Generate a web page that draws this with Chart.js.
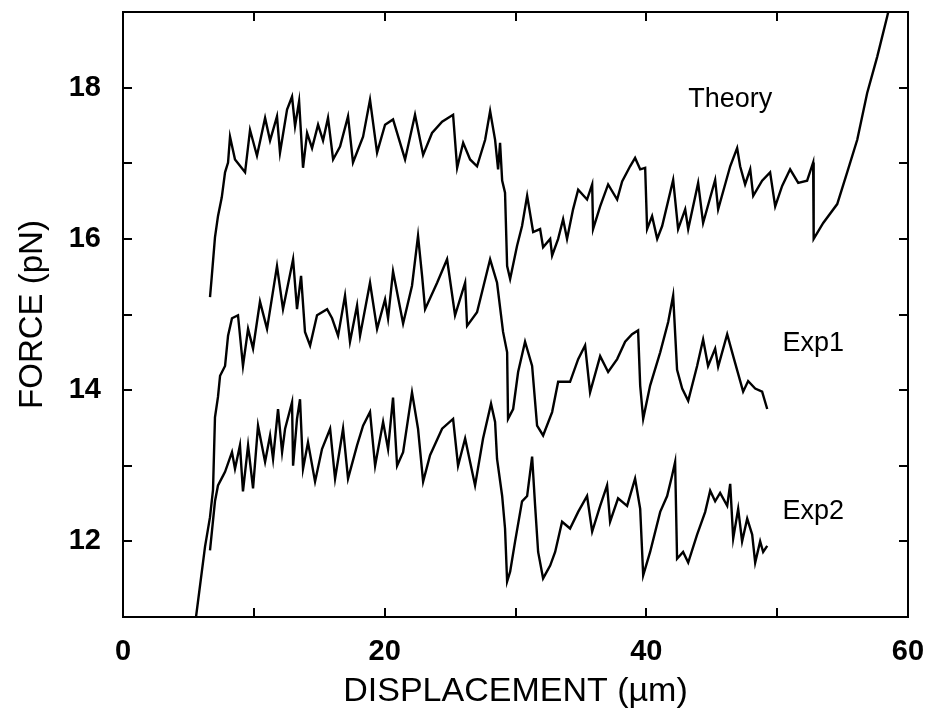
<!DOCTYPE html>
<html>
<head>
<meta charset="utf-8">
<script src="https://cdn.jsdelivr.net/npm/chart.js@4.4.1/dist/chart.umd.min.js"></script>
<style>
  html, body { margin: 0; padding: 0; background: #ffffff; }
  #wrap { width: 929px; height: 714px; position: relative; }
</style>
</head>
<body>
<div id="wrap"><canvas id="c" width="929" height="714"></canvas></div>
<script>
// ---- data ----
const theoryX = [6.65,6.78,7.03,7.26,7.55,7.80,8.03,8.18,8.56,9.33,9.71,10.24,10.86,11.24,11.77,12.0,12.54,12.92,13.15,13.46,13.76,14.07,14.45,14.91,15.29,15.67,16.06,16.59,17.2,17.58,18.35,18.88,19.42,20.03,20.64,21.56,22.32,22.94,23.62,24.39,25.23,25.54,26.0,26.53,27.06,27.68,28.06,28.44,28.67,28.82,28.98,29.2,29.36,29.59,30.12,30.5,30.89,31.35,31.88,32.11,32.65,32.8,33.26,33.64,33.94,34.4,34.79,35.47,35.86,35.93,36.47,37.08,37.77,38.15,38.76,39.14,39.53,39.91,40.06,40.44,40.83,41.21,42.05,42.43,42.97,43.2,43.96,44.34,45.26,45.49,46.41,46.94,47.17,47.55,47.94,48.17,48.85,49.46,49.85,50.38,50.99,51.61,52.29,52.75,52.79,53.52,54.59,55.35,56.12,56.88,57.65,58.41,58.49];
const theoryY = [15.23,15.49,16.02,16.30,16.55,16.88,17.01,17.35,17.05,16.88,17.44,17.10,17.60,17.30,17.62,17.14,17.71,17.88,17.49,17.82,16.94,17.40,17.20,17.51,17.30,17.60,17.05,17.22,17.62,17.01,17.35,17.84,17.14,17.51,17.58,17.05,17.64,17.11,17.40,17.55,17.64,16.94,17.27,17.05,16.96,17.31,17.69,17.31,16.92,17.27,16.77,16.61,15.64,15.47,15.91,16.17,16.57,16.09,16.13,15.89,16.00,15.78,16.00,16.26,16.00,16.39,16.65,16.52,16.72,16.13,16.43,16.72,16.52,16.76,16.96,17.07,16.92,16.94,16.13,16.30,16.00,16.17,16.78,16.13,16.39,16.13,16.74,16.21,16.78,16.39,16.96,17.20,16.96,16.72,16.92,16.57,16.77,16.88,16.43,16.70,16.92,16.74,16.77,17.01,16.00,16.21,16.46,16.88,17.31,17.93,18.41,18.94,19.0];

const exp1X = [5.58,6.27,6.65,6.88,7.03,7.26,7.42,7.80,8.03,8.33,8.79,9.17,9.56,9.94,10.47,11.01,11.77,12.23,13.0,13.3,13.61,13.91,14.3,14.83,15.6,15.98,16.44,16.97,17.35,17.89,18.12,18.88,19.42,20.03,20.26,20.64,21.41,22.09,22.55,22.86,23.09,24.01,24.77,25.38,26.15,26.3,27.06,28.06,28.59,29.05,29.36,29.43,29.82,30.2,30.73,31.27,31.65,32.11,32.8,33.26,34.17,34.79,35.32,35.7,36.47,37.08,37.77,38.38,38.91,39.37,39.53,39.76,40.29,41.06,41.67,42.05,42.35,42.74,43.2,43.88,44.34,44.72,45.26,45.49,46.18,46.64,47.4,47.78,48.32,48.85,49.24];
const exp1Y = [11.0,11.93,12.32,12.68,13.64,13.91,14.19,14.32,14.72,14.95,14.99,14.32,14.81,14.55,15.17,14.81,15.64,15.07,15.73,15.07,15.51,14.77,14.59,14.99,15.07,14.95,14.72,15.25,14.64,15.12,14.72,15.42,14.81,15.20,14.95,15.57,14.88,15.38,16.04,15.51,15.07,15.42,15.73,14.99,15.42,14.85,15.03,15.73,15.42,14.77,14.50,13.62,13.75,14.24,14.64,14.32,13.53,13.40,13.71,14.11,14.11,14.41,14.59,13.97,14.45,14.24,14.41,14.64,14.74,14.79,14.06,13.62,14.06,14.50,14.90,15.25,14.27,14.02,13.86,14.32,14.67,14.32,14.55,14.31,14.74,14.45,13.98,14.12,14.02,13.98,13.75];

const exp2X = [6.65,7.03,7.26,7.65,7.80,8.33,8.56,8.94,9.17,9.56,9.94,10.32,10.86,11.24,11.47,11.85,12.16,12.39,12.92,13.0,13.3,13.53,13.76,14.14,14.68,15.21,15.83,16.21,16.82,17.2,17.89,18.35,18.88,19.27,19.88,20.26,20.64,20.95,21.41,22.09,22.55,22.94,23.47,24.39,25.23,25.61,26.15,26.53,26.91,27.52,28.13,28.44,28.59,28.98,29.2,29.36,29.59,29.97,30.5,30.89,31.27,31.5,31.73,32.11,32.65,33.03,33.56,34.17,34.79,35.47,35.86,36.47,37.0,37.23,37.84,38.53,39.14,39.53,39.76,40.29,41.06,41.59,41.97,42.2,42.35,42.81,43.2,43.88,44.5,44.88,45.26,45.64,46.18,46.41,46.64,47.02,47.32,47.71,48.09,48.32,48.7,48.93,49.24];
const exp2Y = [11.88,12.53,12.74,12.87,12.92,13.18,12.96,13.27,12.66,13.27,12.70,13.53,13.05,13.40,13.09,13.75,13.18,13.49,13.84,13.00,13.62,13.88,12.96,13.31,12.79,13.22,13.49,12.83,13.49,12.83,13.27,13.53,13.71,13.00,13.58,13.22,13.90,13.00,13.18,13.97,13.49,12.79,13.14,13.49,13.62,13.00,13.36,13.05,12.74,13.36,13.82,13.58,13.09,12.60,12.17,11.47,11.60,12.00,12.53,12.60,13.12,12.47,11.86,11.51,11.68,11.86,12.26,12.17,12.39,12.60,12.13,12.47,12.74,12.26,12.57,12.47,12.83,12.43,11.55,11.86,12.39,12.60,12.87,13.05,11.77,11.86,11.72,12.09,12.39,12.67,12.53,12.64,12.47,12.76,12.04,12.43,12.00,12.30,12.09,11.72,12.00,11.86,11.94];

const seriesNames = ['Theory', 'Exp1', 'Exp2'];
const xLabelValues = [0, 20, 40, 60];
const yLabelValues = [12, 14, 16, 18];
const xTitle = 'DISPLACEMENT (\u00b5m)';
const yTitle = 'FORCE (pN)';

// label anchors (data coordinates, left/middle of text)
const labelAnchors = [
  { text: seriesNames[0], x: 43.2, y: 17.84 },
  { text: seriesNames[1], x: 50.4, y: 14.62 },
  { text: seriesNames[2], x: 50.4, y: 12.39 }
];

function pts(xs, ys) { return xs.map((x, i) => ({ x: x, y: ys[i] })); }

const FONT = "'Liberation Sans', Arial, Helvetica, sans-serif";

// inward ticks on all four sides + frame + series labels
const frameTicks = {
  id: 'frameTicks',
  afterDatasetsDraw(chart) {
    const { ctx, chartArea: a, scales } = chart;
    const len = 9;
    ctx.save();
    ctx.strokeStyle = '#000';
    ctx.lineWidth = 2;
    ctx.strokeRect(a.left, a.top, a.right - a.left, a.bottom - a.top);
    ctx.beginPath();
    scales.x.ticks.forEach(t => {
      const px = Math.round(scales.x.getPixelForValue(t.value));
      ctx.moveTo(px, a.bottom); ctx.lineTo(px, a.bottom - len);
      ctx.moveTo(px, a.top); ctx.lineTo(px, a.top + len);
    });
    scales.y.ticks.forEach(t => {
      const py = Math.round(scales.y.getPixelForValue(t.value));
      ctx.moveTo(a.left, py); ctx.lineTo(a.left + len, py);
      ctx.moveTo(a.right, py); ctx.lineTo(a.right - len, py);
    });
    ctx.stroke();
    ctx.fillStyle = '#000';
    ctx.font = '27px ' + FONT;
    ctx.textAlign = 'left';
    ctx.textBaseline = 'middle';
    labelAnchors.forEach(l => {
      ctx.fillText(l.text, scales.x.getPixelForValue(l.x), scales.y.getPixelForValue(l.y));
    });
    ctx.restore();
  }
};

const lineStyle = { borderColor: '#000', borderWidth: 2.4, pointRadius: 0, tension: 0, fill: false };

new Chart(document.getElementById('c'), {
  type: 'line',
  data: {
    datasets: [
      Object.assign({ label: seriesNames[0], data: pts(theoryX, theoryY) }, lineStyle),
      Object.assign({ label: seriesNames[1], data: pts(exp1X, exp1Y) }, lineStyle),
      Object.assign({ label: seriesNames[2], data: pts(exp2X, exp2Y) }, lineStyle)
    ]
  },
  options: {
    responsive: false,
    animation: false,
    layout: { padding: { left: 0, right: 21, top: 12, bottom: 0 } },
    plugins: { legend: { display: false }, tooltip: { enabled: false } },
    scales: {
      x: {
        type: 'linear', min: 0, max: 60,
        ticks: {
          stepSize: 10, color: '#000', padding: 18,
          font: { family: FONT, size: 29, weight: 'bold' },
          maxRotation: 0, autoSkip: false,
          callback: v => xLabelValues.includes(v) ? String(v) : ''
        },
        grid: { display: false, drawTicks: false },
        border: { display: false },
        title: { display: true, text: xTitle, color: '#000', font: { family: FONT, size: 34 }, padding: { top: 0, bottom: 2 } },
        afterFit: s => { s.height = 97; s.paddingLeft = 0; s.paddingRight = 0; }
      },
      y: {
        type: 'linear', min: 11, max: 19,
        ticks: {
          stepSize: 1, color: '#000', padding: 22,
          font: { family: FONT, size: 29, weight: 'bold' },
          autoSkip: false,
          callback: v => yLabelValues.includes(v) ? String(v) : ''
        },
        grid: { display: false, drawTicks: false },
        border: { display: false },
        title: { display: true, text: yTitle, color: '#000', font: { family: FONT, size: 33 }, padding: { top: 13, bottom: 0 } },
        afterFit: s => { s.width = 123; s.paddingTop = 0; s.paddingBottom = 0; }
      }
    }
  },
  plugins: [frameTicks]
});
</script>
</body>
</html>
